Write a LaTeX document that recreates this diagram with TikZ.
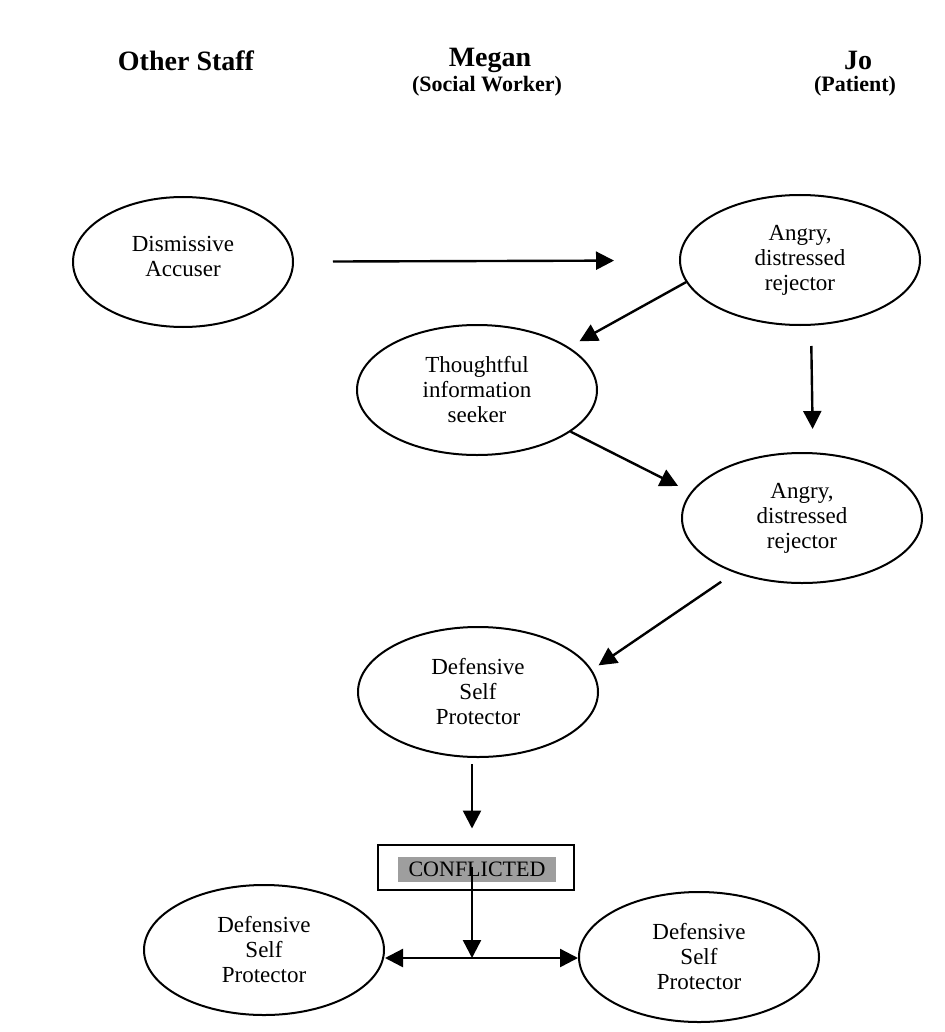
\documentclass[tikz,border=0pt]{standalone}
\usepackage{fontspec}
\setmainfont{Liberation Serif}
\usetikzlibrary{shapes.geometric,arrows.meta}
\begin{document}
\begin{tikzpicture}[x=0.5pt,y=-0.5pt,
  role/.style={ellipse, draw, line width=1pt, minimum width=120pt,
    minimum height=65pt, inner sep=0pt, align=center,
    font=\fontsize{11.5}{12.5}\selectfont},
  head/.style={font=\fontsize{14}{16}\bfseries\selectfont},
  subhead/.style={font=\fontsize{11}{13}\bfseries\selectfont},
  arr/.style={line width=1.2pt, -{Triangle[length=9pt,width=9pt]}},
  darr/.style={line width=1.2pt, {Triangle[length=9pt,width=9pt]}-{Triangle[length=9pt,width=9pt]}},
  statebox/.style={draw, line width=1pt, minimum width=98pt, minimum height=22.5pt, inner sep=0pt},
  shaded/.style={fill=black!38, minimum width=79pt, minimum height=12.5pt, inner sep=0pt,
    font=\fontsize{11}{12}\selectfont}
]
\useasboundingbox (0,0) rectangle (944,1032);

% column headings
\node[head] (hstaff) at (186,61) {Other Staff};
\node[head] (hmegan) at (490,60) {Megan};
\node[subhead] (hsw) at (487,86) {(Social Worker)};
\node[head] (hjo) at (858,60) {Jo};
\node[subhead] (hpat) at (855,86) {(Patient)};

% roles
\node[role, minimum width=110pt] (dism) at (183,262) {Dismissive\\Accuser\\[-7pt]};
\node[role] (ang1) at (800,260) {Angry,\\distressed\\rejector};
\node[role] (thought) at (477,390) {Thoughtful\\information\\seeker};
\node[role] (ang2) at (802,518) {Angry,\\distressed\\rejector};
\node[role] (def) at (478,692) {Defensive\\Self\\Protector};
\node[role] (defl) at (264,950) {Defensive\\Self\\Protector};
\node[role] (defr) at (699,957) {Defensive\\Self\\Protector};

% conflicted state
\node[statebox] (conf) at (476,867) {};
\node[shaded] (conflbl) at (477,869) {CONFLICTED};
\coordinate (split) at (472,958);

% connectors
\draw[arr, shorten <=19.5pt, shorten >=32.5pt] (dism) -- (ang1);
\draw[arr, shorten >=6pt] (ang1.191) -- (thought.25);
\draw[arr, shorten >=7pt] (thought.336) -- (ang2.167);
\draw[arr, shorten <=10pt, shorten >=11.5pt] ([xshift=5.5pt]ang1.south) -- ([xshift=5.5pt]ang2.north);
\draw[arr, shorten <=8pt, shorten >=4pt] (ang2.219) -- (def.11);
\draw[arr, shorten <=3pt, shorten >=7.5pt] ([xshift=-3pt]def.south) -- (conf.north -| split);
\draw[arr] (conf.center -| split) -- (split);
\draw[darr] (defl.east |- split) -- (defr.west |- split);
\end{tikzpicture}
\end{document}
